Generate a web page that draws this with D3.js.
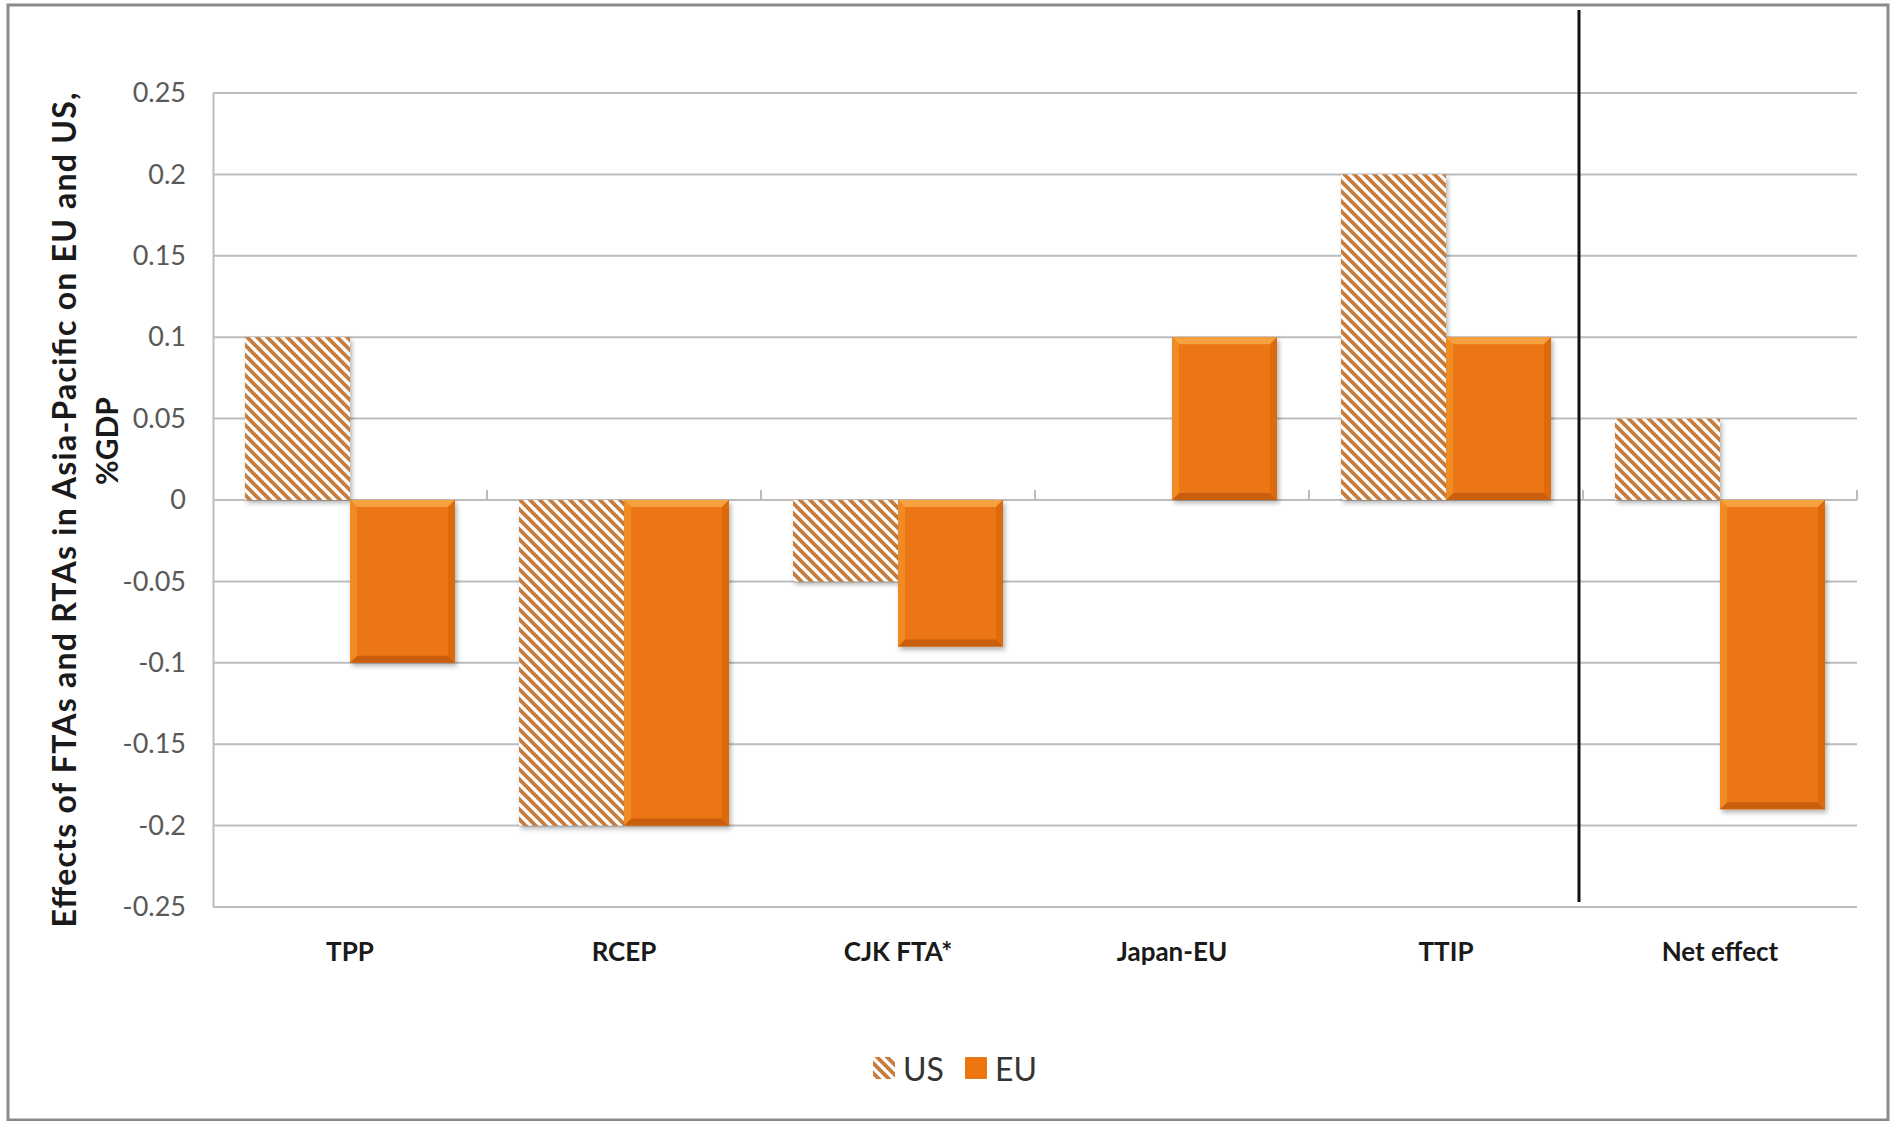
<!DOCTYPE html>
<html>
<head>
<meta charset="utf-8">
<script src="https://cdn.jsdelivr.net/npm/d3@7"></script>
<style>
  html, body { margin: 0; padding: 0; background: #fff; }
  svg { display: block; }
</style>
</head>
<body>
<svg id="chart" width="1894" height="1121"></svg>
<script>
// ---- data ----
const categories = ["TPP", "RCEP", "CJK FTA*", "Japan-EU", "TTIP", "Net effect"];
const seriesNames = ["US", "EU"];
const usValues = [0.1, -0.2, -0.05, 0, 0.2, 0.05];
const euValues = [-0.1, -0.2, -0.09, 0.1, 0.1, -0.19];
const yTickValues = [0.25, 0.2, 0.15, 0.1, 0.05, 0, -0.05, -0.1, -0.15, -0.2, -0.25];
const yTickLabels = ["0.25", "0.2", "0.15", "0.1", "0.05", "0", "-0.05", "-0.1", "-0.15", "-0.2", "-0.25"];
const yTitleLines = ["Effects of FTAs and RTAs in Asia-Pacific on EU and US,", "%GDP"];
const separatorAfter = "TTIP";

// ---- layout ----
const svg = d3.select("#chart");
const plot = { left: 213, right: 1857, top: 93, bottom: 907 };
const FONT = "Lato, 'Open Sans', sans-serif";

const x0 = d3.scaleBand().domain(categories).range([plot.left, plot.right]).paddingInner(0).paddingOuter(0);
const x1 = d3.scaleBand().domain(seriesNames).range([0, x0.bandwidth()]).paddingInner(0).paddingOuter(0.305);
const y = d3.scaleLinear().domain([-0.25, 0.25]).range([plot.bottom, plot.top]);

const defs = svg.append("defs");
const P = 10;
const pat = defs.append("pattern").attr("id", "hatch").attr("patternUnits", "userSpaceOnUse")
  .attr("width", P).attr("height", P);
pat.append("rect").attr("width", P).attr("height", P).attr("fill", "#ffffff");
pat.append("path").attr("d", `M-2,-2 L${P + 2},${P + 2} M-2,${P - 2} L2,${P + 2} M${P - 2},-2 L${P + 2},2`)
  .attr("stroke", "#c67d3e").attr("stroke-width", 3.8).attr("fill", "none");

const sh = defs.append("filter").attr("id", "shadow").attr("x", "-10%").attr("y", "-10%").attr("width", "130%").attr("height", "130%");
sh.append("feDropShadow").attr("dx", 2).attr("dy", 3).attr("stdDeviation", 2.5)
  .attr("flood-color", "#000").attr("flood-opacity", 0.3);

// outer border
svg.append("rect").attr("x", 8).attr("y", 5).attr("width", 1880).attr("height", 1115)
  .attr("fill", "#fff").attr("stroke", "#8a8a8a").attr("stroke-width", 3);

// gridlines
svg.append("g").selectAll("line").data(yTickValues).join("line")
  .attr("x1", plot.left).attr("x2", plot.right)
  .attr("y1", d => y(d)).attr("y2", d => y(d))
  .attr("stroke", "#bdbdbd").attr("stroke-width", 2);

// y axis
const yAxis = d3.axisLeft(y).tickValues(yTickValues).tickSize(0).tickPadding(27)
  .tickFormat((d, i) => yTickLabels[i]);
const yg = svg.append("g").attr("transform", `translate(${plot.left},0)`).call(yAxis);
yg.select(".domain").attr("stroke", "#bdbdbd").attr("stroke-width", 2);
yg.selectAll("text").attr("font-family", FONT).attr("font-size", 27).attr("fill", "#595959");

// category ticks on zero line
const boundaries = categories.slice(1).map(c => x0(c)).concat([plot.right]);
svg.append("g").selectAll("line").data(boundaries).join("line")
  .attr("x1", d => d).attr("x2", d => d).attr("y1", y(0)).attr("y2", y(0) - 10)
  .attr("stroke", "#bdbdbd").attr("stroke-width", 2);

// category labels (x axis)
const xAxis = d3.axisBottom(x0).tickSize(0).tickPadding(0);
const xg = svg.append("g").attr("transform", `translate(0,${plot.bottom})`).call(xAxis);
xg.select(".domain").remove();
xg.selectAll("text").attr("font-family", FONT).attr("font-size", 26).attr("font-weight", "bold")
  .attr("fill", "#1a1a1a").attr("dy", 0).attr("y", 54);

// bars
const rows = categories.map((c, i) => ({ cat: c, US: usValues[i], EU: euValues[i] }));
const gBars = svg.append("g");
rows.forEach(r => {
  seriesNames.forEach(s => {
    const v = r[s];
    if (!v) return;
    const bx = x0(r.cat) + x1(s), bw = x1.bandwidth();
    const by = Math.min(y(v), y(0)), bh = Math.abs(y(v) - y(0));
    const g = gBars.append("g").attr("filter", "url(#shadow)");
    if (s === "US") {
      g.append("rect").attr("x", bx).attr("y", by).attr("width", bw).attr("height", bh).attr("fill", "url(#hatch)");
    } else {
      const b = 7;
      g.append("rect").attr("x", bx).attr("y", by).attr("width", bw).attr("height", bh).attr("fill", "#ec7512");
      g.append("path").attr("d", `M${bx},${by} L${bx + bw},${by} L${bx + bw - b},${by + b} L${bx + b},${by + b} Z`).attr("fill", "#f6a140");
      g.append("path").attr("d", `M${bx},${by + bh} L${bx + bw},${by + bh} L${bx + bw - b},${by + bh - b} L${bx + b},${by + bh - b} Z`).attr("fill", "#c95f08");
      g.append("path").attr("d", `M${bx},${by} L${bx + b},${by + b} L${bx + b},${by + bh - b} L${bx},${by + bh} Z`).attr("fill", "#f08a24");
      g.append("path").attr("d", `M${bx + bw},${by} L${bx + bw - b},${by + b} L${bx + bw - b},${by + bh - b} L${bx + bw},${by + bh} Z`).attr("fill", "#dd6a0c");
    }
  });
});

// separator line
const sepX = x0(separatorAfter) + x0.bandwidth() - 4;
svg.append("line").attr("x1", sepX).attr("x2", sepX).attr("y1", 10).attr("y2", 902)
  .attr("stroke", "#111").attr("stroke-width", 3);

// y title
svg.append("text").attr("transform", `translate(63,510) rotate(-90)`)
  .attr("text-anchor", "middle").attr("dominant-baseline", "central")
  .attr("font-family", FONT).attr("font-size", 32).attr("font-weight", "bold").attr("fill", "#1a1a1a")
  .attr("textLength", 835).attr("lengthAdjust", "spacing")
  .text(yTitleLines[0]);
svg.append("text").attr("transform", `translate(106,441) rotate(-90)`)
  .attr("text-anchor", "middle").attr("dominant-baseline", "central")
  .attr("font-family", FONT).attr("font-size", 30).attr("font-weight", "bold").attr("fill", "#1a1a1a")
  .text(yTitleLines[1]);

// legend
const legend = svg.append("g");
const legendItems = [{ name: "US", x: 873, fill: "url(#hatch)" }, { name: "EU", x: 965, fill: "#ec7512" }];
legendItems.forEach(it => {
  legend.append("rect").attr("x", it.x).attr("y", 1057).attr("width", 22).attr("height", 22).attr("fill", it.fill);
  legend.append("text").attr("x", it.x + 30).attr("y", 1068).attr("dominant-baseline", "central")
    .attr("font-family", FONT).attr("font-size", 32).attr("fill", "#333").text(it.name);
});
</script>
</body>
</html>
